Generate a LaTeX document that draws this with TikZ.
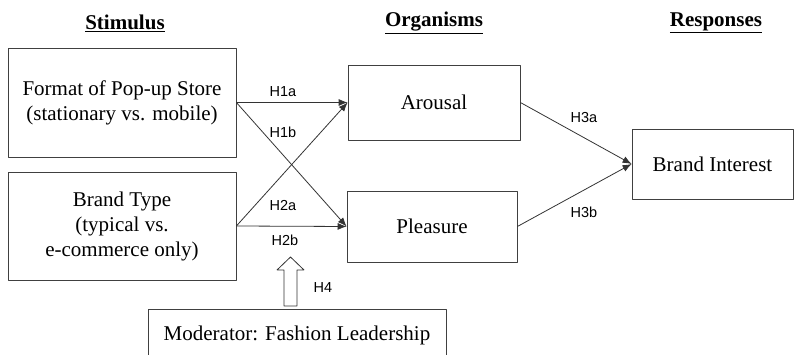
\documentclass[tikz,border=0pt]{standalone}
\usepackage{fontspec}
\usetikzlibrary{arrows.meta}
\setmainfont{Liberation Serif}
\newfontfamily\hypfont{Liberation Sans}
\begin{document}
\begin{tikzpicture}[>={Latex[length=9bp,width=7bp]},line join=bevel,
  box/.style={draw=black!75,line width=0.8bp,rectangle,align=center,inner sep=0pt,
    font=\fontsize{21bp}{25bp}\selectfont},
  hyp/.style={font=\hypfont\fontsize{14.5bp}{17bp}\selectfont},
  head/.style={font=\fontsize{21bp}{25bp}\selectfont\bfseries},
  link/.style={->,draw=black!80,line width=0.8bp},]
%%
\useasboundingbox (0bp,0bp) rectangle (794bp,355bp);
\begin{scope}
  \draw (125bp,332bp) node [head] {\underline{Stimulus}};
  \draw (434bp,332bp) node [head] {\underline{Organisms}};
  \draw (716bp,332bp) node [head] {\underline{Responses}};
\end{scope}
  \node (fmt) at (122bp,252.5bp) [box,minimum width=228bp,minimum height=109bp] {Format of Pop-up Store\\(stationary vs. mobile)};
  \node (brand) at (122bp,129bp) [box,minimum width=228bp,minimum height=108bp] {Brand Type\\(typical vs.\\e-commerce only)};
  \node (arousal) at (434bp,252.5bp) [box,minimum width=172bp,minimum height=75bp] {Arousal};
  \node (pleasure) at (432bp,128.5bp) [box,minimum width=170bp,minimum height=71bp] {Pleasure};
  \node (interest) at (712.5bp,191bp) [box,minimum width=161bp,minimum height=70bp] {Brand Interest};
  \node (moder) at (297bp,20bp) [box,minimum width=298bp,minimum height=52bp] {Moderator: Fashion Leadership};
  \draw [link] (fmt.east) -- (arousal.west);
  \draw (283bp,263bp) node [hyp] {H1a};
  \draw [link] (fmt.east) -- (pleasure.west);
  \draw (283bp,223bp) node [hyp] {H1b};
  \draw [link] (brand.east) -- (arousal.west);
  \draw (283bp,149bp) node [hyp] {H2a};
  \draw [link] (brand.east) -- (pleasure.west);
  \draw (285bp,115bp) node [hyp] {H2b};
  \draw [link] (arousal.east) -- (interest.west);
  \draw (584bp,237bp) node [hyp] {H3a};
  \draw [link] (pleasure.east) -- (interest.west);
  \draw (584bp,143bp) node [hyp] {H3b};
  % moderator arrow
  \draw [draw=black!80,line width=0.8bp,fill=white] (284bp,49bp) -- (284bp,85bp) -- (277bp,85bp) -- (290.5bp,98bp)
    -- (304bp,85bp) -- (297bp,85bp) -- (297bp,49bp) -- cycle;
  \draw (323bp,67bp) node [hyp] {H4};
%
\end{tikzpicture}
\end{document}
